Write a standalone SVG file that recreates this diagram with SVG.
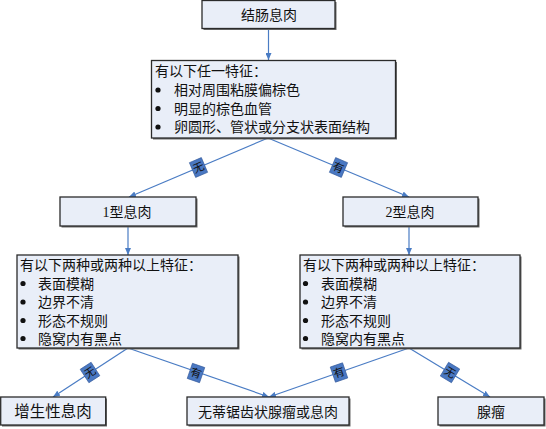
<svg xmlns="http://www.w3.org/2000/svg" width="546" height="429" viewBox="0 0 546 429">
<defs>
<style>
.box{fill:#E9EEF8;stroke:#2B2B2B;stroke-width:1.3}
.sh{fill:#6b6b6b}
.t{font-family:"Liberation Serif","Noto Sans CJK SC",serif;font-size:14px;fill:#111}
.tc{font-family:"Liberation Serif","Noto Sans CJK SC",serif;font-size:14px;fill:#111;text-anchor:middle}
.ln{stroke:#4A7CC4;stroke-width:1.2;fill:none}
.lb rect{fill:#4A78C2;stroke:#2F5597;stroke-width:0.6}
.lb text{font-family:"Liberation Serif","Noto Sans CJK SC",serif;font-size:11px;fill:#111;text-anchor:middle}
.dot{fill:#111}
</style>
<marker id="ar" markerWidth="7" markerHeight="6" refX="7" refY="3" orient="auto" markerUnits="userSpaceOnUse">
<path d="M0,0 L7,3 L0,6 Z" fill="#4A7CC4"/>
</marker>
</defs>

<g id="connectors">
<line class="ln" x1="268.5" y1="29" x2="268.5" y2="60" marker-end="url(#ar)"/>
<line class="ln" x1="268" y1="138" x2="129" y2="197" marker-end="url(#ar)"/>
<line class="ln" x1="268" y1="138" x2="409" y2="197" marker-end="url(#ar)"/>
<line class="ln" x1="128" y1="226" x2="128" y2="255" marker-end="url(#ar)"/>
<line class="ln" x1="409" y1="226" x2="409" y2="255" marker-end="url(#ar)"/>
<line class="ln" x1="128" y1="348" x2="53" y2="397" marker-end="url(#ar)"/>
<line class="ln" x1="128" y1="348" x2="269" y2="397" marker-end="url(#ar)"/>
<line class="ln" x1="409" y1="348" x2="269" y2="397" marker-end="url(#ar)"/>
<line class="ln" x1="409" y1="348" x2="490" y2="397" marker-end="url(#ar)"/>
<g class="lb" transform="translate(198.5,167.5) rotate(-23)"><rect x="-6.5" y="-8" width="13" height="16"/><text y="4">无</text></g>
<g class="lb" transform="translate(338.5,167.5) rotate(23)"><rect x="-6.5" y="-8" width="13" height="16"/><text y="4">有</text></g>
<g class="lb" transform="translate(90,372.5) rotate(-33)"><rect x="-6.5" y="-8" width="13" height="16"/><text y="4">无</text></g>
<g class="lb" transform="translate(196,373) rotate(19)"><rect x="-6.5" y="-8" width="13" height="16"/><text y="4">有</text></g>
<g class="lb" transform="translate(339,372.5) rotate(-19)"><rect x="-6.5" y="-8" width="13" height="16"/><text y="4">有</text></g>
<g class="lb" transform="translate(450,372.5) rotate(31)"><rect x="-6.5" y="-8" width="13" height="16"/><text y="4">无</text></g>
</g>

<g id="n1">
<rect class="sh" x="203.5" y="2" width="133" height="28"/>
<rect class="box" x="202" y="0.5" width="133" height="28"/>
<text class="tc" x="269" y="19.5">结肠息肉</text>
</g>

<g id="n2">
<rect class="sh" x="153" y="62" width="244" height="77.5"/>
<rect class="box" x="151.5" y="60.5" width="244" height="77.5"/>
<text class="t" x="155" y="76">有以下任一特征：</text>
<circle class="dot" cx="158" cy="90" r="2.6"/>
<text class="t" x="174" y="95">相对周围粘膜偏棕色</text>
<circle class="dot" cx="158" cy="108.5" r="2.6"/>
<text class="t" x="174" y="113.5">明显的棕色血管</text>
<circle class="dot" cx="158" cy="127" r="2.6"/>
<text class="t" x="174" y="132">卵圆形、管状或分支状表面结构</text>
</g>

<g id="n3">
<rect class="sh" x="61.5" y="198.5" width="136" height="29"/>
<rect class="box" x="60" y="197" width="136" height="29"/>
<text class="tc" x="127" y="217">1型息肉</text>
</g>

<g id="n4">
<rect class="sh" x="344.5" y="198.5" width="135" height="29"/>
<rect class="box" x="343" y="197" width="135" height="29"/>
<text class="tc" x="410" y="217">2型息肉</text>
</g>

<g id="n5">
<rect class="sh" x="18.5" y="256.5" width="221" height="93"/>
<rect class="box" x="17" y="255" width="221" height="93"/>
<text class="t" x="20" y="270">有以下两种或两种以上特征：</text>
<circle class="dot" cx="23" cy="283.5" r="2.6"/>
<text class="t" x="38" y="288.5">表面模糊</text>
<circle class="dot" cx="23" cy="302" r="2.6"/>
<text class="t" x="38" y="307">边界不清</text>
<circle class="dot" cx="23" cy="320.5" r="2.6"/>
<text class="t" x="38" y="325.5">形态不规则</text>
<circle class="dot" cx="23" cy="338.5" r="2.6"/>
<text class="t" x="38" y="343.5">隐窝内有黑点</text>
</g>

<g id="n6">
<rect class="sh" x="301.5" y="256.5" width="220" height="93"/>
<rect class="box" x="300" y="255" width="220" height="93"/>
<text class="t" x="303" y="270">有以下两种或两种以上特征：</text>
<circle class="dot" cx="305.5" cy="283.5" r="2.6"/>
<text class="t" x="321" y="288.5">表面模糊</text>
<circle class="dot" cx="305.5" cy="302" r="2.6"/>
<text class="t" x="321" y="307">边界不清</text>
<circle class="dot" cx="305.5" cy="320.5" r="2.6"/>
<text class="t" x="321" y="325.5">形态不规则</text>
<circle class="dot" cx="305.5" cy="338.5" r="2.6"/>
<text class="t" x="321" y="343.5">隐窝内有黑点</text>
</g>

<g id="n7">
<rect class="sh" x="2" y="398.5" width="105" height="28"/>
<rect class="box" x="0.7" y="397" width="105" height="28"/>
<text class="tc" x="53" y="417" style="font-size:15.5px">增生性息肉</text>
</g>

<g id="n8">
<rect class="sh" x="188.5" y="398.5" width="162" height="28"/>
<rect class="box" x="187" y="397" width="162" height="28"/>
<text class="tc" x="268" y="416.5">无蒂锯齿状腺瘤或息肉</text>
</g>

<g id="n9">
<rect class="sh" x="439.5" y="398.5" width="106" height="28"/>
<rect class="box" x="438" y="397" width="106" height="28"/>
<text class="tc" x="491" y="416.5">腺瘤</text>
</g>
</svg>
